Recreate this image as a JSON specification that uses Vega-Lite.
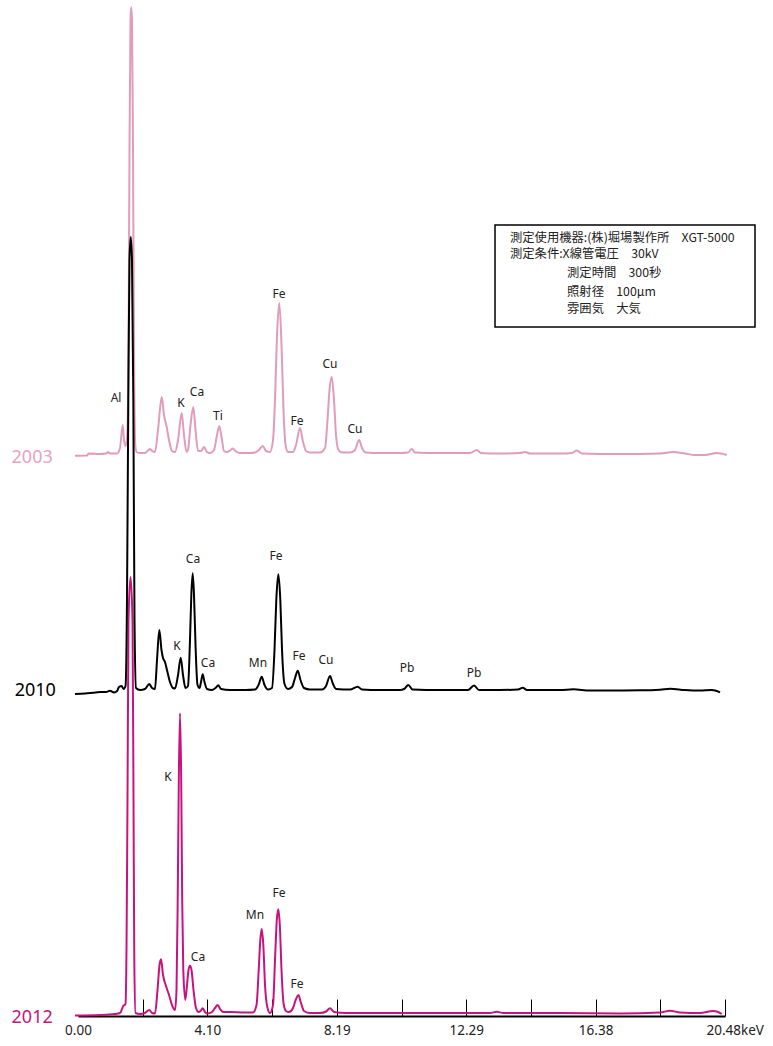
{
  "$schema": "https://vega.github.io/schema/vega-lite/v6.json",
  "width": 647,
  "height": 1016,
  "autosize": {"type": "none"},
  "padding": {"left": 78, "top": 0, "right": 48, "bottom": 30},
  "background": "white",
  "config": {"view": {"stroke": null}, "text": {"font": "Noto Sans"}},
  "datasets": {
    "pink": [
      {"e":-0.095,"v":-1.7},{"e":0.285,"v":-1.5},{"e":0.332,"v":0.5},{"e":0.696,"v":0},{"e":0.886,"v":0.5},{"e":0.950,"v":2},{"e":1.013,"v":0.5},{"e":1.235,"v":0.5},{"e":1.330,"v":6},{"e":1.415,"v":29},{"e":1.456,"v":14},{"e":1.497,"v":8},{"e":1.551,"v":14},{"e":1.599,"v":104},{"e":1.630,"v":304},{"e":1.662,"v":434},{"e":1.684,"v":447},{"e":1.709,"v":434},{"e":1.741,"v":304},{"e":1.773,"v":104},{"e":1.814,"v":9},{"e":1.852,"v":2},
      {"e":1.963,"v":1},{"e":2.121,"v":1},{"e":2.216,"v":3.5},{"e":2.279,"v":5},{"e":2.343,"v":3},{"e":2.437,"v":2},{"e":2.532,"v":24},{"e":2.650,"v":57},{"e":2.722,"v":39},{"e":2.808,"v":27},{"e":2.881,"v":14},{"e":2.976,"v":3},{"e":3.071,"v":2},{"e":3.166,"v":14},{"e":3.283,"v":41},{"e":3.355,"v":19},{"e":3.435,"v":2},{"e":3.482,"v":4},{"e":3.561,"v":29},{"e":3.650,"v":47},{"e":3.720,"v":24},{"e":3.799,"v":3},{"e":3.894,"v":3},{"e":3.989,"v":7},{"e":4.084,"v":2},{"e":4.179,"v":1},{"e":4.305,"v":4},{"e":4.400,"v":19},{"e":4.473,"v":28},{"e":4.543,"v":17},{"e":4.622,"v":3},{"e":4.717,"v":2},{"e":4.812,"v":3.5},{"e":4.897,"v":5.5},{"e":5.002,"v":2.5},{"e":5.128,"v":1},{"e":5.445,"v":1},{"e":5.603,"v":1.5},{"e":5.730,"v":4},{"e":5.847,"v":8},{"e":5.951,"v":3},{"e":6.078,"v":2},{"e":6.173,"v":14},{"e":6.236,"v":54},{"e":6.300,"v":119},{"e":6.372,"v":151},{"e":6.442,"v":109},{"e":6.505,"v":44},{"e":6.569,"v":9},{"e":6.648,"v":2},{"e":6.806,"v":2},{"e":6.901,"v":9},{"e":7.028,"v":26},{"e":7.123,"v":12},{"e":7.218,"v":3},{"e":7.344,"v":1.5},{"e":7.661,"v":1.5},{"e":7.819,"v":6},{"e":7.898,"v":34},{"e":7.961,"v":64},{"e":8.031,"v":77},{"e":8.104,"v":54},{"e":8.167,"v":19},{"e":8.246,"v":4},{"e":8.357,"v":1.5},{"e":8.610,"v":1.5},{"e":8.768,"v":4},{"e":8.895,"v":14},{"e":8.990,"v":6},{"e":9.117,"v":1.5},{"e":9.560,"v":1},{"e":10.193,"v":1},{"e":10.446,"v":1.5},{"e":10.564,"v":5},{"e":10.668,"v":1.5},{"e":11.459,"v":1},{"e":12.409,"v":1},{"e":12.621,"v":4},{"e":12.757,"v":1},{"e":13.359,"v":0.5},{"e":13.992,"v":1},{"e":14.150,"v":2},{"e":14.308,"v":0.5},{"e":15.258,"v":0.5},{"e":15.638,"v":1},{"e":15.787,"v":3.5},{"e":15.954,"v":0.5},{"e":17.157,"v":0},{"e":18.423,"v":0.5},{"e":18.834,"v":2},{"e":19.215,"v":0.5},{"e":19.532,"v":-1},{"e":19.848,"v":-1},{"e":20.218,"v":1},{"e":20.535,"v":-1}
    ],
    "black": [
      {"e":-0.095,"v":-4},{"e":0.222,"v":-3.5},{"e":0.475,"v":-2.7},{"e":0.696,"v":-2},{"e":0.886,"v":-2},{"e":1.013,"v":-0.7},{"e":1.140,"v":-2.5},{"e":1.235,"v":-1},{"e":1.298,"v":3},{"e":1.383,"v":4},{"e":1.440,"v":1},{"e":1.504,"v":4},{"e":1.551,"v":90},{"e":1.592,"v":290},{"e":1.630,"v":430},{"e":1.671,"v":453},{"e":1.709,"v":430},{"e":1.751,"v":290},{"e":1.789,"v":70},{"e":1.836,"v":2},
      {"e":1.963,"v":0},{"e":2.121,"v":1},{"e":2.257,"v":6},{"e":2.343,"v":2},{"e":2.437,"v":1},{"e":2.501,"v":30},{"e":2.574,"v":60},{"e":2.643,"v":40},{"e":2.691,"v":32},{"e":2.754,"v":28},{"e":2.817,"v":20},{"e":2.912,"v":8},{"e":3.007,"v":2},{"e":3.071,"v":1.5},{"e":3.166,"v":15},{"e":3.251,"v":32.3},{"e":3.324,"v":15},{"e":3.403,"v":2},{"e":3.482,"v":4},{"e":3.545,"v":50},{"e":3.587,"v":95},{"e":3.631,"v":116.7},{"e":3.672,"v":95},{"e":3.720,"v":45},{"e":3.783,"v":5},{"e":3.846,"v":2},{"e":3.894,"v":8},{"e":3.947,"v":15.7},{"e":4.004,"v":8},{"e":4.084,"v":1},{"e":4.242,"v":0},{"e":4.353,"v":2},{"e":4.441,"v":4.7},{"e":4.527,"v":1},{"e":4.812,"v":0},{"e":5.287,"v":0},{"e":5.603,"v":0.5},{"e":5.714,"v":5},{"e":5.815,"v":13.3},{"e":5.904,"v":5},{"e":6.015,"v":0.5},{"e":6.141,"v":2},{"e":6.220,"v":40},{"e":6.277,"v":90},{"e":6.341,"v":115.7},{"e":6.404,"v":90},{"e":6.458,"v":40},{"e":6.537,"v":6},{"e":6.648,"v":1},{"e":6.774,"v":3},{"e":6.870,"v":12},{"e":6.955,"v":19.3},{"e":7.043,"v":10},{"e":7.154,"v":2},{"e":7.344,"v":0.5},{"e":7.724,"v":0.5},{"e":7.851,"v":4},{"e":7.977,"v":14},{"e":8.072,"v":6},{"e":8.167,"v":1},{"e":8.610,"v":0.5},{"e":8.854,"v":3.3},{"e":8.990,"v":0.5},{"e":9.560,"v":0},{"e":10.193,"v":0},{"e":10.320,"v":1},{"e":10.456,"v":5},{"e":10.589,"v":0.5},{"e":11.459,"v":0},{"e":12.345,"v":0},{"e":12.536,"v":4.5},{"e":12.694,"v":0},{"e":13.359,"v":0},{"e":13.929,"v":0.5},{"e":14.078,"v":2.3},{"e":14.213,"v":0},{"e":15.258,"v":0},{"e":15.679,"v":0.7},{"e":16.208,"v":-0.5},{"e":17.790,"v":-0.3},{"e":18.423,"v":0.3},{"e":18.740,"v":1.3},{"e":19.215,"v":0},{"e":19.690,"v":-0.5},{"e":20.060,"v":0},{"e":20.323,"v":-2.3}
    ],
    "magenta": [
      {"e":-0.095,"v":-0.5},{"e":0.696,"v":0},{"e":1.171,"v":1},{"e":1.330,"v":2},{"e":1.434,"v":9},{"e":1.504,"v":11},{"e":1.535,"v":65},{"e":1.567,"v":215},{"e":1.599,"v":395},{"e":1.662,"v":438},{"e":1.725,"v":395},{"e":1.757,"v":215},{"e":1.782,"v":55},{"e":1.820,"v":2},
      {"e":1.963,"v":1},{"e":2.121,"v":2},{"e":2.257,"v":5},{"e":2.343,"v":2},{"e":2.437,"v":1.5},{"e":2.517,"v":25},{"e":2.580,"v":50},{"e":2.627,"v":55.7},{"e":2.691,"v":40},{"e":2.786,"v":29},{"e":2.881,"v":20},{"e":2.976,"v":10},{"e":3.071,"v":5},{"e":3.118,"v":25},{"e":3.156,"v":115},{"e":3.191,"v":235},{"e":3.229,"v":301.7},{"e":3.267,"v":235},{"e":3.298,"v":115},{"e":3.333,"v":45},{"e":3.397,"v":15},{"e":3.451,"v":30},{"e":3.498,"v":45},{"e":3.545,"v":49.3},{"e":3.593,"v":45},{"e":3.656,"v":25},{"e":3.735,"v":7},{"e":3.815,"v":3},{"e":3.878,"v":4},{"e":3.947,"v":6.7},{"e":4.020,"v":3},{"e":4.099,"v":1.5},{"e":4.242,"v":3},{"e":4.337,"v":7},{"e":4.422,"v":10},{"e":4.495,"v":6},{"e":4.590,"v":3},{"e":4.812,"v":3},{"e":5.287,"v":2.5},{"e":5.540,"v":2.5},{"e":5.651,"v":10},{"e":5.720,"v":45},{"e":5.771,"v":75},{"e":5.815,"v":86},{"e":5.866,"v":70},{"e":5.920,"v":30},{"e":5.999,"v":7},{"e":6.078,"v":2},{"e":6.173,"v":10},{"e":6.236,"v":55},{"e":6.293,"v":95},{"e":6.341,"v":105.7},{"e":6.388,"v":90},{"e":6.442,"v":45},{"e":6.505,"v":12},{"e":6.584,"v":4},{"e":6.679,"v":3},{"e":6.806,"v":7},{"e":6.901,"v":16},{"e":6.974,"v":20},{"e":7.059,"v":12},{"e":7.154,"v":4},{"e":7.344,"v":2},{"e":7.661,"v":2},{"e":7.851,"v":3.5},{"e":7.977,"v":6.7},{"e":8.104,"v":3},{"e":8.452,"v":2},{"e":9.560,"v":2},{"e":11.459,"v":2},{"e":13.042,"v":2},{"e":13.254,"v":3.3},{"e":13.454,"v":2},{"e":15.258,"v":2},{"e":17.157,"v":1.5},{"e":18.423,"v":2.5},{"e":18.740,"v":4.3},{"e":19.057,"v":2.5},{"e":19.690,"v":2},{"e":20.101,"v":4},{"e":20.260,"v":3},{"e":20.377,"v":1}
    ],
    "pinkLabels": [
      {"e":1.203,"v":56,"t":"Al"},{"e":3.26,"v":51,"t":"K"},{"e":3.767,"v":62,"t":"Ca"},{"e":4.432,"v":38,"t":"Ti"},{"e":6.363,"v":160,"t":"Fe"},{"e":6.933,"v":33,"t":"Fe"},{"e":7.977,"v":90,"t":"Cu"},{"e":8.769,"v":25,"t":"Cu"}
    ],
    "blackLabels": [
      {"e":3.64,"v":131,"t":"Ca"},{"e":3.134,"v":44,"t":"K"},{"e":4.115,"v":27,"t":"Ca"},{"e":5.698,"v":27,"t":"Mn"},{"e":6.268,"v":134,"t":"Fe"},{"e":6.996,"v":34,"t":"Fe"},{"e":7.851,"v":30,"t":"Cu"},{"e":10.415,"v":22,"t":"Pb"},{"e":12.536,"v":17,"t":"Pb"}
    ],
    "magentaLabels": [
      {"e":2.849,"v":238,"t":"K"},{"e":3.799,"v":58,"t":"Ca"},{"e":5.603,"v":100,"t":"Mn"},{"e":6.363,"v":122,"t":"Fe"},{"e":6.933,"v":31,"t":"Fe"}
    ],
    "box": [{"e1":13.2,"e2":21.43,"v1":229,"v2":127}],
    "boxText": [
      {"e":13.675,"v":215.7,"t":"測定使用機器:(株)堀場製作所　XGT-5000"},
      {"e":13.675,"v":199.7,"t":"測定条件:X線管電圧　30kV"},
      {"e":15.48,"v":180.7,"t":"測定時間　300秒"},
      {"e":15.48,"v":162.3,"t":"照射径　100μm"},
      {"e":15.48,"v":144.7,"t":"雰囲気　大気"}
    ]
  },
  "layer": [
    {
      "layer": [
        {
          "data": {"name": "box"},
          "mark": {"type": "rect", "fill": "white", "stroke": "black", "strokeWidth": 1.5},
          "encoding": {
            "x": {"field": "e1", "type": "quantitative"},
            "x2": {"field": "e2"},
            "y": {"field": "v1", "type": "quantitative", "scale": {"domain": [-562, 454], "nice": false, "zero": false}, "axis": null},
            "y2": {"field": "v2"}
          }
        },
        {
          "data": {"name": "boxText"},
          "mark": {"type": "text", "align": "left", "baseline": "middle", "fontSize": 12.3, "font": "Noto Sans CJK JP", "color": "#222"},
          "encoding": {
            "x": {"field": "e", "type": "quantitative"},
            "y": {"field": "v", "type": "quantitative"},
            "text": {"field": "t"}
          }
        },
        {
          "data": {"name": "pink"},
          "mark": {"type": "line", "color": "#E29CBA", "strokeWidth": 2, "interpolate": "monotone"},
          "encoding": {
            "x": {
              "field": "e", "type": "quantitative",
              "scale": {"domain": [0, 20.48], "nice": false, "zero": false},
              "axis": {
                "title": null,
                "values": [0, 2.048, 4.096, 6.144, 8.192, 10.24, 12.288, 14.336, 16.384, 18.432, 20.48],
                "labelExpr": "datum.value > 20 ? '20.48keV' : (round(datum.value / 2.048) % 2 == 0 ? format(datum.value, '.2f') : '')",
                "labelAlign": {"condition": {"test": "datum.value > 20", "value": "left"}, "value": "center"},
                "labelOffset": {"condition": {"test": "datum.value > 20", "value": -19}, "value": 0},
                "tickOpacity": {"condition": {"test": "datum.value < 0.5", "value": 0}, "value": 1},
                "labelFlush": false,
                "labelOverlap": false,
                "labelFont": "Noto Sans",
                "labelFontSize": 13.5,
                "labelColor": "#222",
                "labelPadding": 24,
                "tickSize": -17,
                "tickColor": "black",
                "tickWidth": 1,
                "domainColor": "black",
                "domainWidth": 2,
                "grid": false
              }
            },
            "y": {"field": "v", "type": "quantitative"}
          }
        },
        {
          "data": {"name": "pinkLabels"},
          "mark": {"type": "text", "fontSize": 12, "color": "#222", "baseline": "middle"},
          "encoding": {
            "x": {"field": "e", "type": "quantitative"},
            "y": {"field": "v", "type": "quantitative"},
            "text": {"field": "t"}
          }
        },
        {
          "data": {"values": [{"e": -0.8, "v": -4, "t": "2003"}]},
          "mark": {"type": "text", "fontSize": 18, "align": "right", "baseline": "middle", "color": "#E8A2C1"},
          "encoding": {
            "x": {"field": "e", "type": "quantitative"},
            "y": {"field": "v", "type": "quantitative"},
            "text": {"field": "t"}
          }
        }
      ]
    },
    {
      "layer": [
        {
          "data": {"name": "magenta"},
          "mark": {"type": "line", "color": "#C8137F", "strokeWidth": 2, "interpolate": "monotone"},
          "encoding": {
            "x": {"field": "e", "type": "quantitative"},
            "y": {"field": "v", "type": "quantitative", "scale": {"domain": [-1, 1015], "nice": false, "zero": false}, "axis": null}
          }
        },
        {
          "data": {"name": "magentaLabels"},
          "mark": {"type": "text", "fontSize": 12, "color": "#222", "baseline": "middle"},
          "encoding": {
            "x": {"field": "e", "type": "quantitative"},
            "y": {"field": "v", "type": "quantitative"},
            "text": {"field": "t"}
          }
        },
        {
          "data": {"values": [{"e": -0.8, "v": -3, "t": "2012"}]},
          "mark": {"type": "text", "fontSize": 18, "align": "right", "baseline": "middle", "color": "#C8137F"},
          "encoding": {
            "x": {"field": "e", "type": "quantitative"},
            "y": {"field": "v", "type": "quantitative"},
            "text": {"field": "t"}
          }
        }
      ]
    },
    {
      "layer": [
        {
          "data": {"name": "black"},
          "mark": {"type": "line", "color": "black", "strokeWidth": 2, "interpolate": "monotone"},
          "encoding": {
            "x": {"field": "e", "type": "quantitative"},
            "y": {"field": "v", "type": "quantitative", "scale": {"domain": [-326, 690], "nice": false, "zero": false}, "axis": null}
          }
        },
        {
          "data": {"name": "blackLabels"},
          "mark": {"type": "text", "fontSize": 12, "color": "#222", "baseline": "middle"},
          "encoding": {
            "x": {"field": "e", "type": "quantitative"},
            "y": {"field": "v", "type": "quantitative"},
            "text": {"field": "t"}
          }
        },
        {
          "data": {"values": [{"e": -0.7, "v": -1, "t": "2010"}]},
          "mark": {"type": "text", "fontSize": 18, "align": "right", "baseline": "middle", "color": "black"},
          "encoding": {
            "x": {"field": "e", "type": "quantitative"},
            "y": {"field": "v", "type": "quantitative"},
            "text": {"field": "t"}
          }
        }
      ]
    }
  ],
  "resolve": {"scale": {"y": "independent"}}
}
